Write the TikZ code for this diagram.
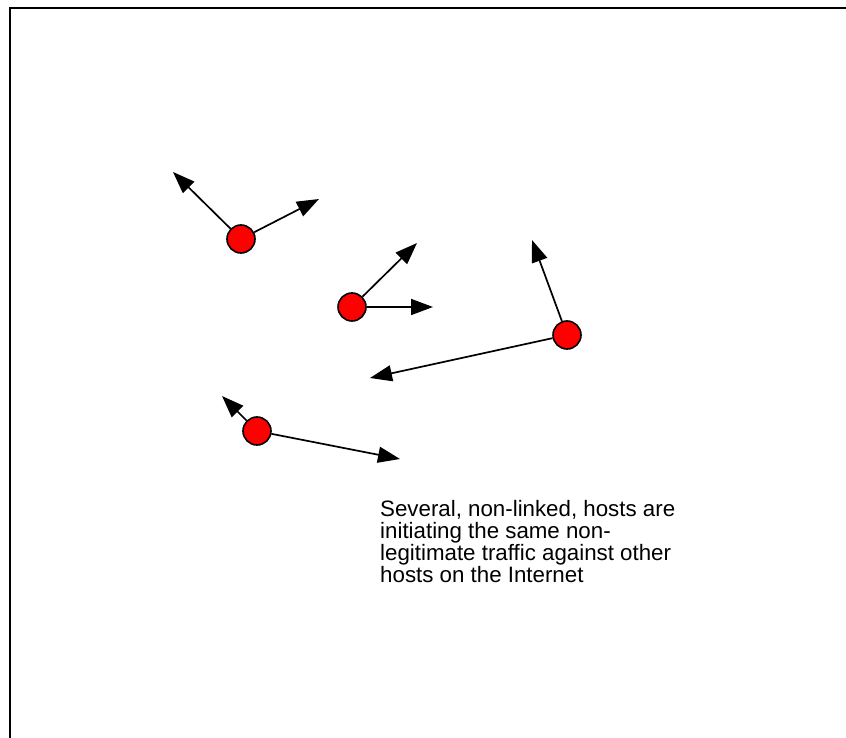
\documentclass[tikz,border=0pt]{standalone}
\usepackage{fontspec}
\setmainfont{Liberation Sans}
\usetikzlibrary{arrows.meta}
\begin{document}
\begin{tikzpicture}[x=1pt,y=-1pt,
  host/.style={circle,draw=black,fill=red,line width=1.6pt,minimum size=28pt,inner sep=0pt},
  flow/.style={line width=1.7pt,-{Triangle[length=22pt,width=16pt]}},
  frame/.style={line width=1.6pt}]
\useasboundingbox (0,0) rectangle (846,738);
\coordinate (f1) at (10,738);
\coordinate (f2) at (10,8);
\coordinate (f3) at (846,8);
\draw[frame] (f1) -- (f2) -- (f3);
\node[host] (A) at (241,239) {};
\node[host] (B) at (352,307) {};
\node[host] (C) at (567,335) {};
\node[host] (D) at (257,431) {};
\coordinate (a1) at (173,172);
\coordinate (a2) at (319,199);
\coordinate (b1) at (417,243);
\coordinate (b2) at (433,307);
\coordinate (c1) at (532,240);
\coordinate (c2) at (370,378);
\coordinate (d1) at (222,396);
\coordinate (d2) at (400,459);
\draw[flow] (A) -- (a1);
\draw[flow] (A) -- (a2);
\draw[flow] (B) -- (b1);
\draw[flow] (B) -- (b2);
\draw[flow] (C) -- (c1);
\draw[flow] (C) -- (c2);
\draw[flow] (D) -- (d1);
\draw[flow] (D) -- (d2);
\node[anchor=base west,align=left,inner sep=0pt,font=\fontsize{22.3}{21.7}\selectfont] (T) at (380,582)
  {Several, non-linked, hosts are\\initiating the same non-\\legitimate traffic against other\\hosts on the Internet};
\end{tikzpicture}
\end{document}
